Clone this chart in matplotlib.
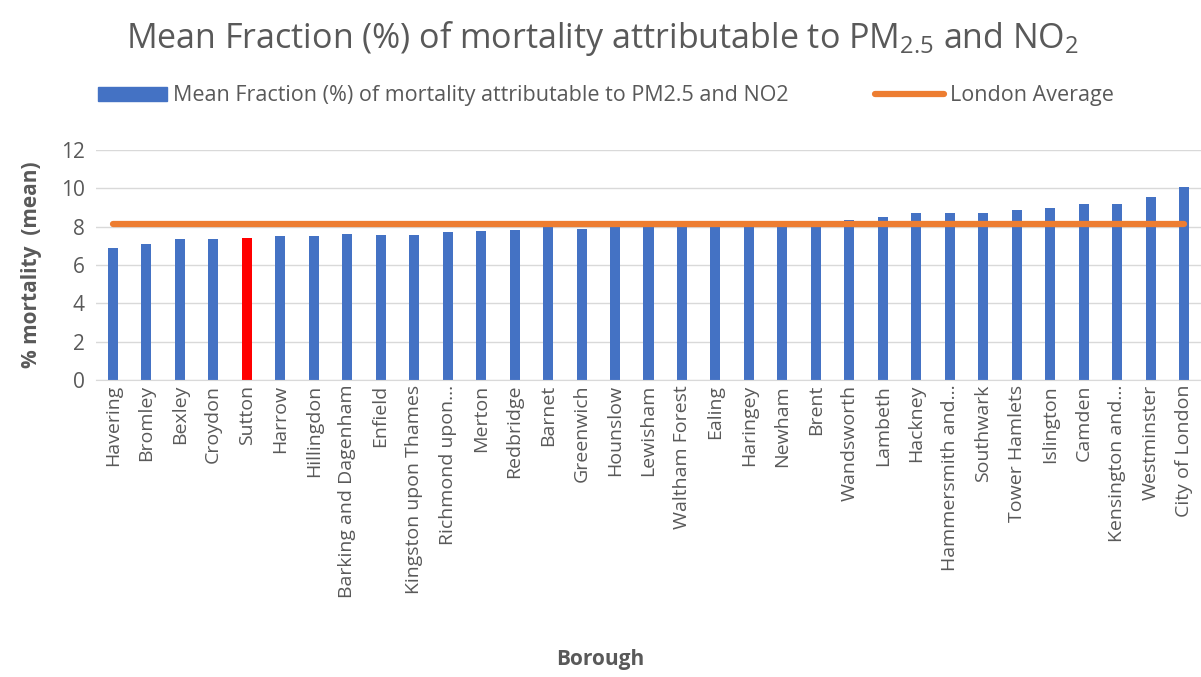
import matplotlib
matplotlib.use("Agg")
import matplotlib.pyplot as plt
import numpy as np

boroughs = [
    "Havering", "Bromley", "Bexley", "Croydon", "Sutton", "Harrow", "Hillingdon",
    "Barking and Dagenham", "Enfield", "Kingston upon Thames", "Richmond upon…",
    "Merton", "Redbridge", "Barnet", "Greenwich", "Hounslow", "Lewisham",
    "Waltham Forest", "Ealing", "Haringey", "Newham", "Brent", "Wandsworth",
    "Lambeth", "Hackney", "Hammersmith and…", "Southwark", "Tower Hamlets",
    "Islington", "Camden", "Kensington and…", "Westminster", "City of London",
]
mean_fraction = [
    6.87, 7.07, 7.37, 7.37, 7.42, 7.49, 7.49, 7.62, 7.58, 7.58, 7.70,
    7.80, 7.82, 7.96, 7.86, 7.96, 7.97, 7.98, 7.99, 8.00, 8.02, 8.05, 8.35,
    8.52, 8.70, 8.70, 8.73, 8.89, 8.99, 9.17, 9.17, 9.57, 10.09,
]
london_average = 8.14
highlight = "Sutton"

plt.rcParams["font.family"] = ["Open Sans", "DejaVu Sans"]
plt.rcParams["mathtext.fontset"] = "custom"
plt.rcParams["mathtext.rm"] = "Open Sans"
plt.rcParams["mathtext.it"] = "Open Sans"

grey = "#595959"
blue = "#4472c4"
orange = "#ed7d31"

fig = plt.figure(figsize=(12.01, 6.77), dpi=100)
ax = fig.add_axes([96 / 1201, 1 - 380 / 677, 1105 / 1201, 230 / 677])

x = np.arange(len(boroughs))
colors = ["#ff0000" if b == highlight else blue for b in boroughs]
bars = ax.bar(x, mean_fraction, width=0.3, color=colors, zorder=2)
line, = ax.plot(x, [london_average] * len(x), color=orange, linewidth=4.5, zorder=3,
                solid_capstyle="round")

ax.set_xlim(-0.5, len(x) - 0.5)
ax.set_ylim(0, 12)
ax.set_yticks(range(0, 13, 2))
ax.grid(axis="y", color="#d9d9d9", linewidth=1, zorder=0)
for s in ["top", "right", "left"]:
    ax.spines[s].set_visible(False)
ax.spines["bottom"].set_color("#d9d9d9")
ax.tick_params(axis="both", length=0, colors=grey, labelsize=14)
ax.tick_params(axis="y", pad=8, labelsize=15)
ax.set_xticks(x)
ax.set_xticklabels(boroughs, rotation=90)

ax.set_ylabel("% mortality  (mean)", fontsize=15, fontweight="bold", color=grey, labelpad=14)
fig.text(0.5, 1 - 660 / 677, "Borough", ha="center", va="center",
         fontsize=15, fontweight="bold", color=grey)
fig.text(603 / 1201, 1 - 38 / 677,
         r"Mean Fraction (%) of mortality attributable to PM$_{2.5}$ and NO$_2$",
         ha="center", va="center", fontsize=24.5, color=grey)

blue_patch = matplotlib.patches.Patch(color=blue)
fig.legend([blue_patch, line],
           ["Mean Fraction (%) of mortality attributable to PM2.5 and NO2", "London Average"],
           loc="center", bbox_to_anchor=(606 / 1201, 1 - 96 / 677),
           ncol=2, frameon=False, fontsize=15.5, labelcolor=grey,
           handlelength=3.2, handleheight=0.6, handletextpad=0.3, columnspacing=4)

fig.savefig("out.png", dpi=100)
